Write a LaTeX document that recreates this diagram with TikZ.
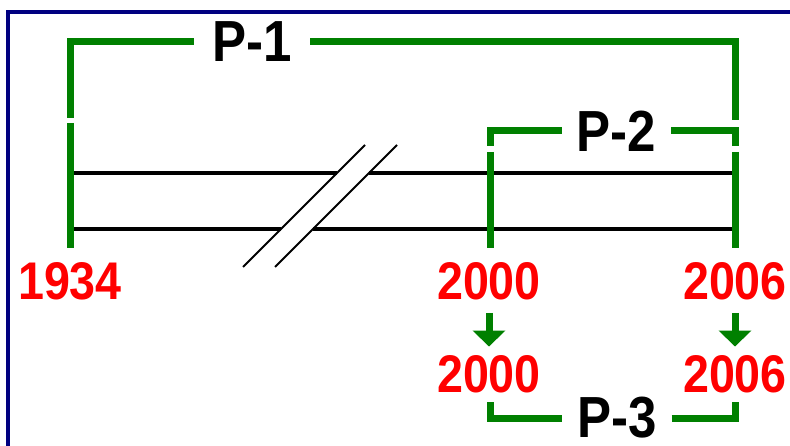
\documentclass[tikz,border=0pt]{standalone}
\usepackage{fontspec}
\setmainfont{Liberation Sans}[FakeStretch=0.88]
\usetikzlibrary{positioning, arrows.meta}

\definecolor{periodgreen}{RGB}{0,128,0}
\definecolor{framenavy}{RGB}{0,0,128}

\begin{document}
\begin{tikzpicture}[
    x=1pt, y=-1pt,
    bracket/.style={
        draw=periodgreen,
        line width=7pt
    },
    rail/.style={
        draw=black,
        line width=4pt
    },
    cut/.style={
        draw=black,
        line width=1.8pt
    },
    down/.style={
        -{Triangle[width=32pt, length=16pt]},
        draw=periodgreen,
        fill=periodgreen,
        line width=7pt,
        shorten <=13pt,
        shorten >=8.5pt
    },
    year/.style={
        inner sep=0pt,
        text=red,
        font=\fontsize{53}{53}\selectfont\bfseries
    },
    period/.style={
        inner sep=0pt,
        minimum width=109pt,
        text=black,
        font=\fontsize{58}{58}\selectfont\bfseries
    }
]

    \useasboundingbox (0,0) rectangle (790,446);

    % Frame
    \draw[framenavy, line width=4pt] (8,446) -- (8,12) -- (790,12);

    % Years
    \node[year] (y1934) at (70,281) {1934};
    \node[year] (y2000) at (489,281) {2000};
    \node[year] (y2006) at (735,281) {2006};
    \node[year] (y2000b) at (489,374) {2000};
    \node[year] (y2006b) at (735,374) {2006};

    % Periods
    \node[period, minimum width=116pt] (P1) at (252,42) {P-1};
    \node[period] (P2) at (616.5,131) {P-2};
    \node[period] (P3) at (617,418) {P-3};

    % Time axis with break
    \coordinate (r1a) at (70,173);  \coordinate (r1b) at (337,173);
    \coordinate (r1c) at (369,173); \coordinate (r1d) at (735,173);
    \coordinate (r2a) at (70,229);  \coordinate (r2b) at (281,229);
    \coordinate (r2c) at (313,229); \coordinate (r2d) at (735,229);
    \draw[rail] (r1a) -- (r1b);
    \draw[rail] (r1c) -- (r1d);
    \draw[rail] (r2a) -- (r2b);
    \draw[rail] (r2c) -- (r2d);

    \coordinate (c1a) at (243,267); \coordinate (c1b) at (365,145);
    \coordinate (c2a) at (275,267); \coordinate (c2b) at (397,145);
    \draw[cut] (c1a) -- (c1b);
    \draw[cut] (c2a) -- (c2b);

    % Ticks
    \coordinate (t1934) at (70,123);
    \coordinate (t2000) at (490,152);
    \coordinate (t2006) at (735,152);
    \draw[bracket, shorten >=14pt] (t1934) -- (y1934);
    \draw[bracket, shorten >=14pt] (t2000) -- (y2000.north -| t2000);
    \draw[bracket, shorten >=14pt] (t2006) -- (y2006);

    % Brackets
    \coordinate (b1l) at (70,118);
    \coordinate (b1r) at (735,120);
    \draw[bracket] (b1l) |- (P1.west);
    \draw[bracket] (P1.east) -| (b1r);

    \coordinate (b2l) at (490,146);
    \coordinate (b2r) at (735,146);
    \draw[bracket] (b2l) |- (P2.west);
    \draw[bracket] (P2.east) -| (b2r);

    \coordinate (b3l) at (490,402);
    \coordinate (b3r) at (735,402);
    \draw[bracket] (b3l) |- (P3.west);
    \draw[bracket] (P3.east) -| (b3r);

    % Shifts
    \draw[down] (y2000) -- (y2000b);
    \draw[down] (y2006) -- (y2006b);

\end{tikzpicture}
\end{document}
